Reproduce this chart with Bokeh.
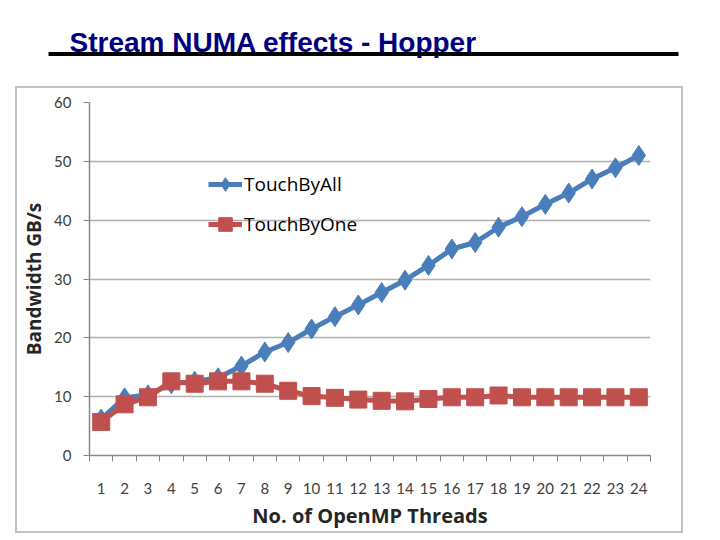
from bokeh.plotting import figure
from bokeh.layouts import column
from bokeh.models import FixedTicker, Label, BoxAnnotation, Legend, LegendItem, Range1d
from bokeh.embed import file_html
from bokeh.resources import INLINE

threads = list(range(1, 25))
tick_labels = {t: str(t) for t in threads}
touch_by_all = [6.2, 9.8, 10.3, 12.2, 12.6, 13.2, 15.2, 17.6, 19.2, 21.5, 23.6, 25.6,
                27.7, 29.8, 32.3, 35.1, 36.2, 38.8, 40.6, 42.7, 44.6, 47.0, 48.9, 51.0]
touch_by_one = [5.7, 8.7, 9.9, 12.6, 12.2, 12.6, 12.6, 12.2, 11.0, 10.1, 9.8, 9.5,
                9.3, 9.2, 9.6, 9.9, 9.9, 10.2, 9.9, 9.9, 9.9, 9.9, 9.9, 9.9]
y_ticks = [0, 10, 20, 30, 40, 50, 60]
title_text = "Stream NUMA effects - Hopper"
x_title = "No. of OpenMP Threads"
y_title = "Bandwidth GB/s"

BLUE = "#4a7ebb"
RED = "#c0504d"
TICK_FONT = "Lato"
LABEL_FONT = "Open Sans"

# ---- slide title (its own figure, pixel coordinates, y downward) ----
head = figure(width=720, height=86, output_backend="svg", toolbar_location=None,
              x_range=Range1d(0, 720), y_range=Range1d(86, 0),
              x_axis_location=None, y_axis_location=None, min_border=0)
head.frame_align = False
head.grid.visible = False
head.outline_line_color = None
head.add_layout(Label(x=69, y=42, text=title_text,
                      text_font="Liberation Sans", text_font_style="bold", text_font_size="28px",
                      text_color="#000080", text_baseline="alphabetic"))
head.add_layout(BoxAnnotation(left=48, right=678, top=51.5, bottom=55.5,
                              fill_color="black", fill_alpha=1, line_color=None))

# ---- chart (inside a light grey box drawn as a CSS outline) ----
p = figure(width=664, height=443, output_backend="svg", toolbar_location=None,
           x_range=Range1d(0.5, 24.5), y_range=Range1d(0, 60),
           min_border_left=72, min_border_right=31, min_border_top=14, min_border_bottom=76,
           margin=(2, 0, 2, 17), styles={"outline": "2px solid #c3c3c3"})
p.frame_align = False
p.outline_line_color = None
p.background_fill_color = "white"
p.border_fill_color = "white"

p.xaxis.ticker = FixedTicker(ticks=threads,
                             minor_ticks=[t - 0.5 for t in threads] + [threads[-1] + 0.5])
p.xaxis.major_label_overrides = tick_labels
p.xaxis.major_tick_out = 0
p.xaxis.major_tick_in = 0
p.xaxis.minor_tick_out = 6
p.xaxis.minor_tick_in = 0
p.xaxis.minor_tick_line_color = "#868686"
p.xaxis.major_label_standoff = 21
p.xaxis.axis_label = x_title
p.xaxis.axis_label_standoff = 5

p.yaxis.ticker = FixedTicker(ticks=y_ticks)
p.yaxis.major_tick_out = 6
p.yaxis.major_tick_in = 0
p.yaxis.minor_tick_line_color = None
p.yaxis.major_label_standoff = 12
p.yaxis.axis_label = y_title
p.yaxis.axis_label_standoff = 4

for ax in (p.xaxis[0], p.yaxis[0]):
    ax.axis_line_color = "#868686"
    ax.axis_line_width = 1.5
    ax.major_tick_line_color = "#868686"
    ax.major_label_text_font = TICK_FONT
    ax.major_label_text_font_size = "15px"
    ax.major_label_text_color = "#404040"
    ax.axis_label_text_font = LABEL_FONT
    ax.axis_label_text_font_style = "bold"
    ax.axis_label_text_color = "#262626"
p.xaxis.axis_label_text_font_size = "20px"
p.yaxis.axis_label_text_font_size = "19px"

p.xgrid.visible = False
p.ygrid.ticker = FixedTicker(ticks=y_ticks)
p.ygrid.grid_line_color = "#b0b0b0"
p.ygrid.grid_line_width = 1.5

l1 = p.line(threads, touch_by_all, line_width=5, color=BLUE)
s1 = p.scatter(threads, touch_by_all, marker="diamond", size=20, color=BLUE)
l2 = p.line(threads, touch_by_one, line_width=5, color=RED)
s2 = p.scatter(threads, touch_by_one, marker="square", size=17, color=RED)

legend = Legend(items=[LegendItem(label="TouchByAll", renderers=[l1, s1]),
                       LegendItem(label="TouchByOne", renderers=[l2, s2])],
                location=(119, 211), padding=0, margin=0, spacing=0,
                glyph_width=34, glyph_height=40, label_height=40, label_standoff=2,
                label_text_font=LABEL_FONT, label_text_font_size="19px",
                label_text_color="#000000",
                border_line_color=None, background_fill_alpha=0)
p.add_layout(legend, "center")

layout = column(head, p, spacing=0)
open("out.html", "w").write(file_html(layout, INLINE))
